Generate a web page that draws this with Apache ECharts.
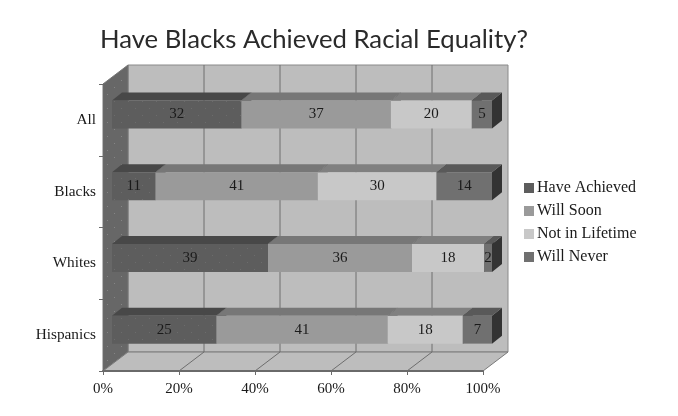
<!DOCTYPE html>
<html><head><meta charset="utf-8">
<style>html,body{margin:0;padding:0;background:#fff}#c{width:678px;height:416px;filter:blur(0.35px)}</style>
<script src="https://cdn.jsdelivr.net/npm/echarts@6/dist/echarts.min.js"></script>
</head><body><div id="c"></div>
<script>
const categories = ['All','Blacks','Whites','Hispanics'];
const haveAchieved = [32,11,39,25];
const willSoon = [37,41,36,41];
const notInLifetime = [20,30,18,18];
const willNever = [5,14,2,7];
const tickValues = [0,20,40,60,80,100];
const seriesNames = ['Have Achieved','Will Soon','Not in Lifetime','Will Never'];
const seriesValues = [haveAchieved,willSoon,notInLifetime,willNever];
const frontColors = ['#5d5d5d','#9a9a9a','#c8c8c8','#707070'];
const topColors = ['#484848','#777777','#808080','#595959'];
const sideColor = '#333333';
const serifFont = '"Liberation Serif", serif';
const D = {wx:25, wy:-19, fx:9, fy:-6, bx:19, by:-14, barH:28};

function dotted(base, dot){
  const c=document.createElement('canvas');c.width=14;c.height=14;
  const g=c.getContext('2d');g.fillStyle=base;g.fillRect(0,0,14,14);
  g.fillStyle=dot;g.fillRect(2,3,1,1);g.fillRect(9,10,1,1);
  return {image:c,repeat:'repeat'};
}
const wallFill = dotted('#676767','#858585');
const darkFill = dotted('#5d5d5d','#6c6c6c');

const chart = echarts.init(document.getElementById('c'),null,{renderer:'canvas'});

function wallItem(params, api){
  const r = params.coordSys;
  const L=r.x, R=r.x+r.width, T=r.y, B=r.y+r.height;
  const poly=(pts,fill,stroke)=>({type:'polygon',shape:{points:pts},style:{fill,stroke:stroke||fill,lineWidth:1}});
  const line=(x1,y1,x2,y2,c)=>({type:'line',shape:{x1,y1,x2,y2},style:{stroke:c,lineWidth:1}});
  const kids=[
    poly([[L+D.wx,T+D.wy],[R+D.wx,T+D.wy],[R+D.wx,B+D.wy],[L+D.wx,B+D.wy]],'#bdbdbd','#8a8a8a'),
    poly([[L,T],[L+D.wx,T+D.wy],[L+D.wx,B+D.wy],[L,B]],wallFill,'#777777'),
    poly([[L,B],[R,B],[R+D.wx,B+D.wy],[L+D.wx,B+D.wy]],'#bdbdbd','#7a7a7a')
  ];
  tickValues.slice(1,-1).forEach(t=>{
    const x=api.coord([t,0])[0];
    kids.push(line(x+D.wx,T+D.wy,x+D.wx,B+D.wy,'#6e6e6e'));
    kids.push(line(x,B,x+D.wx,B+D.wy,'#6e6e6e'));
  });
  return {type:'group',children:kids};
}

function barItem(seriesIdx){
  return function(params, api){
    const c = api.value(0);
    const start = api.coord([api.value(1), c]);
    const end = api.coord([api.value(2), c]);
    const raw = api.value(3);
    const h = D.barH;
    const y = start[1]+D.fy-h/2+0.5;
    const x0 = start[0]+D.fx, x1 = end[0]+D.fx;
    const dx = D.bx-D.fx, dy = D.by-D.fy;
    return {type:'group',children:[
      {type:'polygon',shape:{points:[[x1,y],[x1+dx,y+dy],[x1+dx,y+dy+h],[x1,y+h]]},style:{fill:sideColor}},
      {type:'polygon',shape:{points:[[x0,y],[x0+dx,y+dy],[x1+dx,y+dy],[x1,y]]},style:{fill:topColors[seriesIdx]}},
      {type:'rect',shape:{x:x0,y:y,width:x1-x0,height:h},style:{fill:seriesIdx===0?darkFill:frontColors[seriesIdx]}},
      {type:'text',style:{x:(x0+x1)/2,y:y+h/2,text:String(raw),fill:'#1a1a1a',font:'15px '+serifFont,align:'center',verticalAlign:'middle'}}
    ]};
  };
}

const totals = categories.map((_,i)=>seriesValues.reduce((s,a)=>s+a[i],0));
const running = categories.map(()=>0);
const barSeries = seriesNames.map((name,si)=>{
  const data = categories.map((_,i)=>{
    const a = running[i]/totals[i]*100;
    running[i]+=seriesValues[si][i];
    const b = running[i]/totals[i]*100;
    return [i,a,b,seriesValues[si][i]];
  });
  return {type:'custom',name,coordinateSystem:'cartesian2d',z:3,silent:true,
    itemStyle:{color:frontColors[si]},encode:{x:[1,2],y:0},renderItem:barItem(si),data,clip:false};
});

chart.setOption({
  animation:false,
  backgroundColor:'#fff',
  title:{text:'Have Blacks Achieved Racial Equality?',left:95,top:22,
    textStyle:{fontFamily:'Lato, sans-serif',fontWeight:'normal',fontSize:25.7,color:'#2a2a2a'}},
  grid:{left:103,top:84,width:380,height:287,containLabel:false},
  legend:{orient:'vertical',left:519,top:175,itemWidth:10,itemHeight:10,itemGap:7,icon:'rect',
    data:seriesNames,selectedMode:false,
    textStyle:{fontFamily:serifFont,fontSize:16,color:'#1a1a1a',padding:[0,0,0,-2]}},
  xAxis:{type:'value',min:0,max:100,interval:20,z:5,
    axisLabel:{formatter:'{value}%',fontFamily:serifFont,fontSize:15,color:'#1a1a1a',margin:11},
    axisLine:{show:true,lineStyle:{color:'#6a6a6a',width:2}},
    axisTick:{show:true,length:4,lineStyle:{color:'#6a6a6a'}},
    splitLine:{show:false}},
  yAxis:{type:'category',data:categories,inverse:true,z:5,
    axisLabel:{fontFamily:serifFont,fontSize:15.3,color:'#1a1a1a',margin:7},
    axisLine:{show:true,lineStyle:{color:'#6a6a6a',width:1}},
    axisTick:{show:true,length:4,lineStyle:{color:'#6a6a6a'}},
    splitLine:{show:false}},
  series:[{type:'custom',name:'walls',coordinateSystem:'cartesian2d',z:1,silent:true,
    renderItem:wallItem,data:[[0,0]],clip:false}].concat(barSeries)
});
</script></body></html>
